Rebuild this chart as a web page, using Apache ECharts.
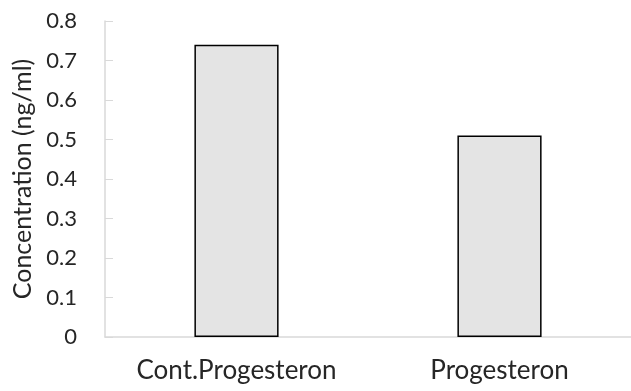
<!DOCTYPE html>
<html><head><meta charset="utf-8">
<script src="https://cdn.jsdelivr.net/npm/echarts@6/dist/echarts.min.js"></script>
<style>html,body{margin:0;padding:0;background:#fff}#c{width:631px;height:391px}</style>
</head><body><div id="c"></div>
<script>
const categories = ['Cont.Progesteron', 'Progesteron'];
const values = [0.74, 0.51];
const yTicks = [0, 0.1, 0.2, 0.3, 0.4, 0.5, 0.6, 0.7, 0.8];
const yName = 'Concentration (ng/ml)';

const chart = echarts.init(document.getElementById('c'), null, {renderer: 'canvas'});
const font = 'Lato, sans-serif';
chart.setOption({
  animation: false,
  grid: {left: 105, right: 0, top: 21, bottom: 54, outerBoundsMode: 'none', containLabel: false},
  xAxis: {
    type: 'category', data: categories,
    axisLine: {lineStyle: {color: '#d9d9d9', width: 1.5}},
    axisTick: {show: false},
    axisLabel: {color: '#262626', fontSize: 26, fontFamily: font, margin: 21}
  },
  yAxis: {
    type: 'value', min: 0, max: 0.8, interval: 0.1,
    name: yName, nameLocation: 'middle', nameGap: 70,
    nameTextStyle: {color: '#262626', fontSize: 25, fontFamily: font},
    axisLine: {show: true, lineStyle: {color: '#d9d9d9', width: 1.5}},
    axisTick: {show: true, inside: true, length: 8, lineStyle: {color: '#d9d9d9'}},
    splitLine: {show: false},
    axisLabel: {color: '#262626', fontSize: 22, fontFamily: font, margin: 28,
      formatter: v => { const t = yTicks.find(x => Math.abs(x - v) < 1e-9); return t === undefined ? '' : String(t); }}
  },
  series: [{
    type: 'bar', data: values, barWidth: '32%',
    itemStyle: {color: '#e4e4e4', borderColor: '#000', borderWidth: 1.5}
  }]
});
</script></body></html>
